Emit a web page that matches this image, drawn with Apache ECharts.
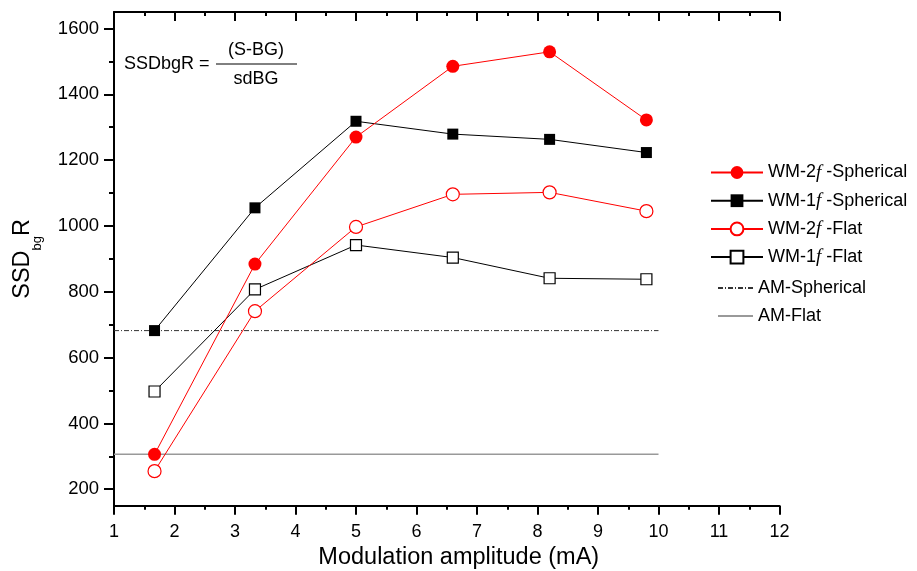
<!DOCTYPE html>
<html>
<head>
<meta charset="utf-8">
<script src="https://cdn.jsdelivr.net/npm/echarts@6/dist/echarts.min.js"></script>
<style>
  html, body { margin: 0; padding: 0; background: #fff; }
  #chart { width: 917px; height: 571px; }
</style>
</head>
<body>
<div id="chart"></div>
<script>
// modulation amplitude (mA)
const amplitudes = [1.67, 3.33, 5, 6.6, 8.2, 9.8];

// SSDbgR values
const wm2fSpherical = [306, 884, 1270, 1485, 1529, 1322];
const wm1fSpherical = [682, 1055, 1318, 1279, 1263, 1223];
const wm2fFlat = [255, 741, 997, 1096, 1102, 1045];
const wm1fFlat = [497, 807, 942, 904, 841, 838];

// AM reference levels, drawn from x = 1 to x = 10
const amRange = [1, 10];
const amSpherical = 682;
const amFlat = 306;

const yMajorTicks = [200, 400, 600, 800, 1000, 1200, 1400, 1600];
const yMinorTicks = [300, 500, 700, 900, 1100, 1300, 1500];

const font = 'Liberation Sans, Arial, Helvetica, sans-serif';

const pairs = (xs, ys) => xs.map((x, i) => [x, ys[i]]);

const chart = echarts.init(document.getElementById('chart'), null, { renderer: 'canvas' });

const legendRich = {
    t: { fontFamily: font, fontSize: 18, color: '#000', lineHeight: 20 },
    f: { fontFamily: 'Liberation Serif, Times New Roman, serif', fontStyle: 'italic', fontSize: 19, color: '#000', lineHeight: 20 }
};

function legendLabel(name) {
    const m = name.match(/^WM-(\d)f-(.*)$/);
    if (m) return '{t|WM-' + m[1] + '}{f|f}{t| -' + m[2] + '}';
    return '{t|' + name + '}';
}

const gridBox = { left: 114, right: 137.5, top: 12, bottom: 65.3, outerBoundsMode: 'none', show: false };

const option = {
    animation: false,
    // second grid sits on top of the first one, only to carry the short y ticks
    grid: [Object.assign({}, gridBox), Object.assign({}, gridBox)],
    legend: [
        {
            data: ['WM-2f-Spherical', 'WM-1f-Spherical', 'WM-2f-Flat', 'WM-1f-Flat'],
            orient: 'vertical',
            left: 710,
            top: 163,
            padding: 0,
            itemWidth: 52,
            itemHeight: 16,
            itemGap: 9.2,
            itemTextGap: 6,
            formatter: legendLabel,
            textStyle: { rich: legendRich }
        },
        {
            data: ['AM-Spherical', 'AM-Flat'],
            orient: 'vertical',
            left: 717,
            top: 279,
            padding: 0,
            itemWidth: 35,
            itemHeight: 16,
            itemGap: 10,
            itemTextGap: 16,
            formatter: legendLabel,
            textStyle: { rich: legendRich }
        }
    ],
    xAxis: [
        {
            type: 'value',
            gridIndex: 0,
            position: 'bottom',
            min: 1,
            max: 12,
            interval: 1,
            name: 'Modulation amplitude (mA)',
            nameLocation: 'middle',
            nameGap: 38,
            nameTextStyle: { fontFamily: font, fontSize: 23.5, color: '#000', padding: [0, 0, 0, 24] },
            axisLine: { show: true, lineStyle: { color: '#000', width: 2 } },
            axisTick: { show: true, length: 9, lineStyle: { color: '#000', width: 2 } },
            minorTick: { show: true, splitNumber: 2, length: 4, lineStyle: { color: '#000', width: 2 } },
            axisLabel: { fontFamily: font, fontSize: 18, color: '#000', margin: 17 },
            splitLine: { show: false }
        },
        {
            type: 'value',
            gridIndex: 0,
            position: 'top',
            min: 1,
            max: 12,
            interval: 1,
            axisLine: { show: true, lineStyle: { color: '#000', width: 2 } },
            axisTick: { show: true, inside: true, length: 9, lineStyle: { color: '#000', width: 2 } },
            minorTick: { show: true, splitNumber: 2, length: 4, lineStyle: { color: '#000', width: 2 } },
            axisLabel: { show: false },
            splitLine: { show: false }
        },
        {
            type: 'value',
            gridIndex: 1,
            min: 1,
            max: 12,
            show: false
        }
    ],
    yAxis: [
        {
            type: 'value',
            gridIndex: 0,
            position: 'left',
            min: 150,
            max: 1650,
            name: '{a|SSD}{s|bg}{a|R}',
            nameLocation: 'middle',
            nameGap: 70,
            nameTextStyle: {
                rich: {
                    a: { fontFamily: font, fontSize: 23.5, color: '#000', lineHeight: 42 },
                    s: { fontFamily: font, fontSize: 13, color: '#000', lineHeight: 13, verticalAlign: 'bottom' }
                }
            },
            axisLine: { show: true, lineStyle: { color: '#000', width: 2 } },
            axisTick: { show: true, length: 10, customValues: yMajorTicks, lineStyle: { color: '#000', width: 2 } },
            axisLabel: {
                fontFamily: font, fontSize: 18.5, color: '#000', margin: 15,
                customValues: yMajorTicks,
                formatter: v => String(v)
            },
            splitLine: { show: false }
        },
        {
            type: 'value',
            gridIndex: 1,
            position: 'left',
            min: 150,
            max: 1650,
            axisLine: { show: false },
            axisTick: { show: true, length: 5, customValues: yMinorTicks, lineStyle: { color: '#000', width: 2 } },
            axisLabel: { show: false },
            splitLine: { show: false }
        }
    ],
    graphic: [
        {
            type: 'text',
            left: 124,
            top: 55,
            style: { text: 'SSDbgR =', fontFamily: font, fontSize: 18, fill: '#000' }
        },
        {
            type: 'text',
            x: 256,
            y: 50,
            style: { text: '(S-BG)', fontFamily: font, fontSize: 18, fill: '#000', align: 'center', verticalAlign: 'middle' }
        },
        {
            type: 'line',
            shape: { x1: 216, y1: 64, x2: 297, y2: 64 },
            style: { stroke: '#000', lineWidth: 1 }
        },
        {
            type: 'text',
            x: 256,
            y: 79,
            style: { text: 'sdBG', fontFamily: font, fontSize: 18, fill: '#000', align: 'center', verticalAlign: 'middle' }
        }
    ],
    series: [
        {
            name: 'AM-Spherical',
            type: 'line',
            symbol: 'none',
            data: pairs(amRange, [amSpherical, amSpherical]),
            lineStyle: { color: '#333', width: 1, type: [5, 2, 1, 2] },
            itemStyle: { color: 'rgba(0,0,0,0)' },
            z: 1
        },
        {
            name: 'AM-Flat',
            type: 'line',
            symbol: 'none',
            data: pairs(amRange, [amFlat, amFlat]),
            lineStyle: { color: '#999', width: 1.5 },
            itemStyle: { color: 'rgba(0,0,0,0)' },
            z: 1
        },
        {
            name: 'WM-1f-Flat',
            type: 'line',
            symbol: 'rect',
            symbolSize: 11,
            data: pairs(amplitudes, wm1fFlat),
            lineStyle: { color: '#000', width: 1 },
            itemStyle: { color: '#fff', borderColor: '#000', borderWidth: 1.2 }
        },
        {
            name: 'WM-2f-Flat',
            type: 'line',
            symbol: 'circle',
            symbolSize: 13,
            data: pairs(amplitudes, wm2fFlat),
            lineStyle: { color: '#f00', width: 1 },
            itemStyle: { color: '#fff', borderColor: '#f00', borderWidth: 1.2 }
        },
        {
            name: 'WM-1f-Spherical',
            type: 'line',
            symbol: 'rect',
            symbolSize: 11,
            data: pairs(amplitudes, wm1fSpherical),
            lineStyle: { color: '#000', width: 1 },
            itemStyle: { color: '#000' }
        },
        {
            name: 'WM-2f-Spherical',
            type: 'line',
            symbol: 'circle',
            symbolSize: 13,
            data: pairs(amplitudes, wm2fSpherical),
            lineStyle: { color: '#f00', width: 1 },
            itemStyle: { color: '#f00' }
        }
    ]
};

chart.setOption(option);
</script>
</body>
</html>
